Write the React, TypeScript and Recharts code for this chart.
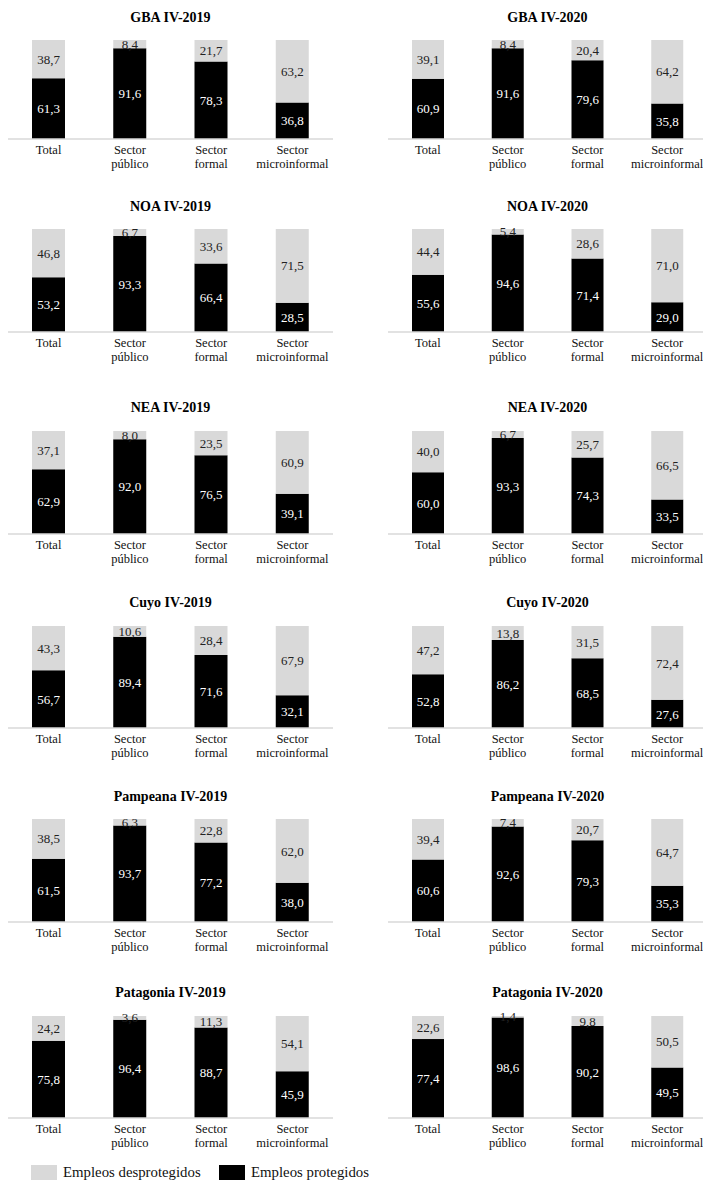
import { BarChart, Bar, XAxis, YAxis, LabelList } from 'recharts'

// ============================================
// Datos
// ============================================

const categorias = ['Total', 'Sector público', 'Sector formal', 'Sector microinformal']
const regiones = ['GBA', 'NOA', 'NEA', 'Cuyo', 'Pampeana', 'Patagonia']
const periodos = ['IV-2019', 'IV-2020']

// una fila por región, una columna por categoría
const protegidos2019 = [
  [61.3, 91.6, 78.3, 36.8],
  [53.2, 93.3, 66.4, 28.5],
  [62.9, 92.0, 76.5, 39.1],
  [56.7, 89.4, 71.6, 32.1],
  [61.5, 93.7, 77.2, 38.0],
  [75.8, 96.4, 88.7, 45.9],
]
const desprotegidos2019 = [
  [38.7, 8.4, 21.7, 63.2],
  [46.8, 6.7, 33.6, 71.5],
  [37.1, 8.0, 23.5, 60.9],
  [43.3, 10.6, 28.4, 67.9],
  [38.5, 6.3, 22.8, 62.0],
  [24.2, 3.6, 11.3, 54.1],
]
const protegidos2020 = [
  [60.9, 91.6, 79.6, 35.8],
  [55.6, 94.6, 71.4, 29.0],
  [60.0, 93.3, 74.3, 33.5],
  [52.8, 86.2, 68.5, 27.6],
  [60.6, 92.6, 79.3, 35.3],
  [77.4, 98.6, 90.2, 49.5],
]
const desprotegidos2020 = [
  [39.1, 8.4, 20.4, 64.2],
  [44.4, 5.4, 28.6, 71.0],
  [40.0, 6.7, 25.7, 66.5],
  [47.2, 13.8, 31.5, 72.4],
  [39.4, 7.4, 20.7, 64.7],
  [22.6, 1.4, 9.8, 50.5],
]

// ============================================
// Layout
// ============================================

const FONT = '"Liberation Serif", "Times New Roman", serif'
const GRIS = '#d9d9d9'

// y del título, tope del área y línea base por fila
const filas = [
  { titleY: 18, top: 40, base: 139 },
  { titleY: 207, top: 229, base: 332 },
  { titleY: 408, top: 431, base: 534 },
  { titleY: 603, top: 626, base: 728 },
  { titleY: 797, top: 819, base: 922 },
  { titleY: 993, top: 1016, base: 1118 },
]
const columnas = [
  { left: 8, width: 325, barSize: 33 },
  { left: 388, width: 319, barSize: 32 },
]

const fmt = (v: number) => v.toFixed(1).replace('.', ',')

function CategoriaTick({ x, y, payload }: { x?: number; y?: number; payload?: { value: string } }) {
  if (!payload) return null
  const words = payload.value.split(' ')
  return (
    <text x={x} y={y} textAnchor="middle" fontSize={12.5} fill="#111" fontFamily={FONT}>
      {words.map((w, i) => (
        <tspan key={i} x={x} dy={i === 0 ? 15 : 14}>
          {w}
        </tspan>
      ))}
    </text>
  )
}

function Panel({ region, periodo, fila, col }: { region: number; periodo: number; fila: number; col: number }) {
  const f = filas[fila]
  const c = columnas[col]
  const prot = periodo === 0 ? protegidos2019[region] : protegidos2020[region]
  const desp = periodo === 0 ? desprotegidos2019[region] : desprotegidos2020[region]
  const data = categorias.map((cat, i) => ({ name: cat, protegidos: prot[i], desprotegidos: desp[i] }))

  const mTop = 12
  const axisH = 44
  const height = mTop + (f.base - f.top) + axisH

  return (
    <>
      <div
        style={{
          position: 'absolute',
          left: c.left,
          width: c.width,
          top: f.titleY - 9,
          height: 18,
          lineHeight: '18px',
          textAlign: 'center',
          fontFamily: FONT,
          fontWeight: 'bold',
          fontSize: 14,
          color: '#000',
        }}
      >
        {regiones[region]} {periodos[periodo]}
      </div>
      <div style={{ position: 'absolute', left: c.left - 8, top: f.top - mTop }}>
        <BarChart
          width={c.width + 16}
          height={height}
          data={data}
          margin={{ top: mTop, right: 8, left: 8, bottom: 0 }}
        >
          <XAxis
            dataKey="name"
            interval={0}
            height={axisH}
            tickLine={false}
            tickSize={0}
            tickMargin={0}
            axisLine={{ stroke: GRIS, strokeWidth: 1.5 }}
            tick={<CategoriaTick />}
          />
          <YAxis hide domain={[0, 100]} />
          <Bar dataKey="protegidos" stackId="a" fill="#000" barSize={c.barSize} isAnimationActive={false}>
            <LabelList
              dataKey="protegidos"
              position="center"
              formatter={(v: number) => fmt(v)}
              fill="#fff"
              fontSize={13}
              fontFamily={FONT}
            />
          </Bar>
          <Bar dataKey="desprotegidos" stackId="a" fill={GRIS} barSize={c.barSize} isAnimationActive={false}>
            <LabelList
              dataKey="desprotegidos"
              position="center"
              formatter={(v: number) => fmt(v)}
              fill="#222"
              fontSize={13}
              fontFamily={FONT}
            />
          </Bar>
        </BarChart>
      </div>
    </>
  )
}

function Leyenda() {
  const item = (color: string, texto: string, left: number) => (
    <div style={{ position: 'absolute', left, top: 1165, display: 'flex', alignItems: 'center' }}>
      <div style={{ width: 26, height: 15, background: color }} />
      <span style={{ marginLeft: 6, fontFamily: FONT, fontSize: 14.8, color: '#111', lineHeight: '15px' }}>
        {texto}
      </span>
    </div>
  )
  return (
    <>
      {item(GRIS, 'Empleos desprotegidos', 31)}
      {item('#000', 'Empleos protegidos', 219)}
    </>
  )
}

export default function App() {
  return (
    <div
      style={{
        position: 'absolute',
        left: 0,
        top: 0,
        width: 703,
        height: 1181,
        overflow: 'hidden',
        background: '#fff',
      }}
    >
      {regiones.map((_, r) =>
        periodos.map((__, p) => <Panel key={`${r}-${p}`} region={r} periodo={p} fila={r} col={p} />)
      )}
      <Leyenda />
    </div>
  )
}
